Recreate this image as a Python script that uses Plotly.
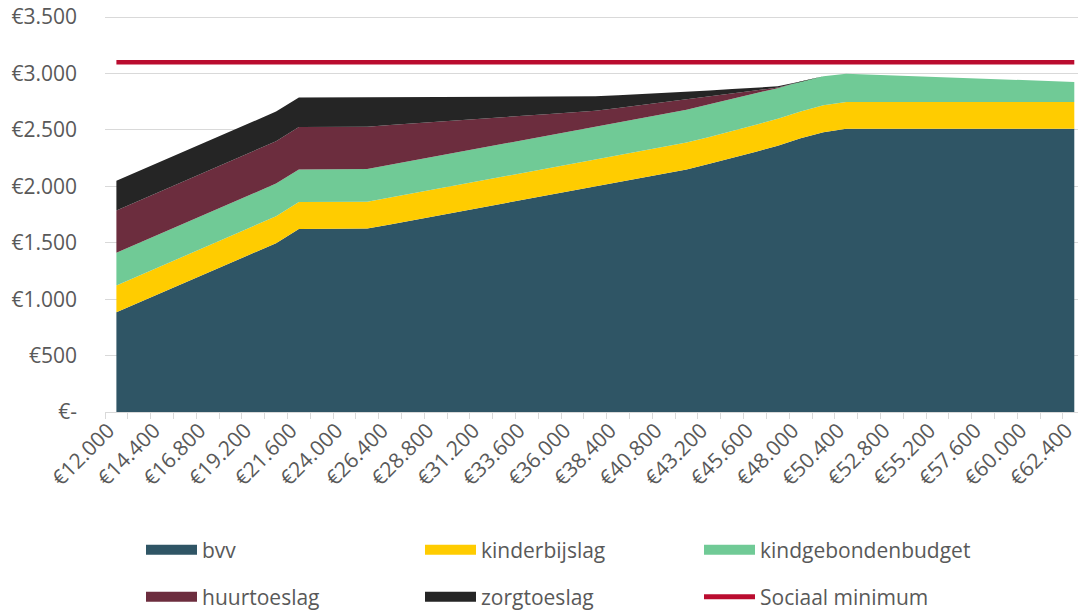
import plotly.graph_objects as go

# netto besteedbaar inkomen per maand, naar bruto jaarinkomen
inkomen = [
    12000, 13200, 14400, 15600, 16800, 18000, 19200, 20400, 21600, 22800,
    24000, 25200, 26400, 27600, 28800, 30000, 31200, 32400, 33600, 34800,
    36000, 37200, 38400, 39600, 40800, 42000, 43200, 44400, 45600, 46800,
    48000, 49200, 50400, 51600, 52800, 54000, 55200, 56400, 57600, 58800,
    60000, 61200, 62400,
]
bvv = [
    883, 971, 1058, 1146, 1233, 1321, 1408, 1496, 1622, 1623,
    1624, 1625, 1662, 1700, 1737, 1775, 1812, 1850, 1887, 1925,
    1962, 2000, 2037, 2075, 2112, 2150, 2200, 2250, 2305, 2360,
    2425, 2480, 2510, 2510, 2510, 2510, 2510, 2510, 2510, 2510,
    2510, 2510, 2510,
]
kinderbijslag = [
    238, 238, 238, 238, 238, 238, 238, 238, 238, 238,
    238, 238, 238, 238, 238, 238, 238, 238, 238, 238,
    238, 238, 238, 238, 238, 238, 238, 238, 238, 238,
    238, 238, 238, 238, 238, 238, 238, 238, 238, 238,
    238, 238, 238,
]
kindgebondenbudget = [
    290, 290, 290, 290, 290, 290, 290, 290, 290, 290,
    290, 290, 290, 290, 290, 290, 290, 290, 290, 290,
    290, 290, 290, 290, 290, 290, 290, 287, 279, 272,
    265, 257, 250, 243, 235, 228, 221, 213, 206, 199,
    191, 184, 177,
]
huurtoeslag = [
    375, 375, 375, 375, 375, 375, 375, 375, 375, 375,
    375, 375, 353, 330, 306, 283, 259, 235, 212, 188,
    165, 141, 128, 115, 103, 91, 70, 48, 26, 6,
    0, 0, 0, 0, 0, 0, 0, 0, 0, 0,
    0, 0, 0,
]
zorgtoeslag = [
    263, 263, 263, 263, 263, 263, 263, 263, 263, 263,
    263, 263, 249, 236, 222, 209, 195, 182, 169, 155,
    142, 128, 113, 98, 82, 66, 52, 39, 25, 10,
    0, 0, 0, 0, 0, 0, 0, 0, 0, 0,
    0, 0, 0,
]
sociaal_minimum = 3100

x_labels = ["€" + f"{v:,}".replace(",", ".") for v in inkomen[::2]]
y_ticks = [0, 500, 1000, 1500, 2000, 2500, 3000, 3500]
y_labels = ["€-", "€500", "€1.000", "€1.500", "€2.000", "€2.500", "€3.000", "€3.500"]

GRAY = "#595959"
GRID = "#D9D9D9"
FONT = "Open Sans, Noto Sans, sans-serif"
W, H = 1078, 612

lagen = [
    ("bvv", bvv, "#2F5565", "legend"),
    ("kinderbijslag", kinderbijslag, "#FFCC00", "legend"),
    ("kindgebondenbudget", kindgebondenbudget, "#70CA96", "legend"),
    ("huurtoeslag", huurtoeslag, "#6C2D3E", "legend2"),
    ("zorgtoeslag", zorgtoeslag, "#252525", "legend2"),
]

fig = go.Figure()
for naam, waarden, kleur, leg in lagen:
    fig.add_trace(go.Scatter(
        x=inkomen, y=waarden, name=naam, stackgroup="een", mode="lines",
        line=dict(width=0, color=kleur), fillcolor=kleur, showlegend=False,
        hovertemplate="%{y}<extra>" + naam + "</extra>"))
fig.add_trace(go.Scatter(
    x=inkomen, y=[sociaal_minimum] * len(inkomen), name="Sociaal minimum",
    mode="lines", line=dict(width=4.5, color="#BA0C2F"), showlegend=False))

# legend entries: wide blocks like the original Excel legend
for naam, _, kleur, leg in lagen:
    fig.add_trace(go.Scatter(
        x=[None], y=[None], name=naam, mode="lines",
        line=dict(width=15, color=kleur), legend=leg, hoverinfo="skip"))
fig.add_trace(go.Scatter(
    x=[None], y=[None], name="Sociaal minimum", mode="lines",
    line=dict(width=5, color="#BA0C2F"), legend="legend2", hoverinfo="skip"))

leg_common = dict(
    orientation="h", xref="container", yref="container", yanchor="middle",
    entrywidth=213, entrywidthmode="pixels", itemwidth=51,
    font=dict(size=21, color=GRAY, family=FONT), bgcolor="rgba(0,0,0,0)",
    traceorder="normal",
)
fig.update_layout(
    width=W, height=H,
    paper_bgcolor="white", plot_bgcolor="white",
    margin=dict(l=105, r=0, t=15, b=199.5, autoexpand=False),
    font=dict(family=FONT, size=21, color=GRAY),
    showlegend=True,
    legend=dict(x=141 / W, y=1 - 550 / H, **leg_common),
    legend2=dict(x=141 / W, y=1 - 597 / H, **leg_common),
)
fig.update_xaxes(
    range=[11400, 62595], tickmode="array", tickvals=inkomen[::2],
    ticktext=x_labels, tickangle=-45, ticks="", automargin=False,
    ticklabeloverflow="allow", ticklabelshift=-8, ticklabelstandoff=-3,
    showgrid=False, showline=True, linecolor=GRID, linewidth=1, zeroline=False,
    tickfont=dict(size=21, color=GRAY),
    minor=dict(tick0=11400, dtick=1200, ticks="outside", ticklen=6,
               tickcolor=GRID, tickwidth=1, showgrid=False),
)
fig.update_yaxes(
    range=[0, 3518], tickmode="array", tickvals=y_ticks, ticktext=y_labels,
    showgrid=True, gridcolor=GRID, gridwidth=1, zeroline=False, automargin=False,
    ticklabeloverflow="allow",
    ticks="", ticklabelstandoff=27, tickfont=dict(size=21, color=GRAY),
)

# drop the browser's default 8px page margin so the figure fills the window
fig.write_html("out.html", config={"displayModeBar": False},
               post_script="document.body.style.margin='0px';")
